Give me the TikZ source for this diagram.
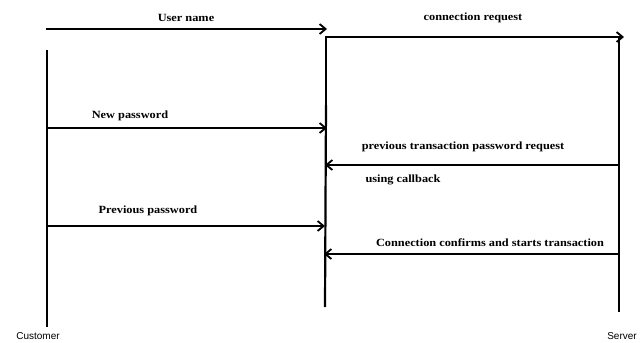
\documentclass[tikz,border=0pt]{standalone}
\usepackage{fontspec}
\setmainfont{Liberation Serif}[FakeStretch=1.12]
\newfontfamily\lblsans{Liberation Sans}
\usetikzlibrary{arrows.meta}
\begin{document}
\begin{tikzpicture}[x=1pt,y=-1pt,
  lifeline/.style={line width=2.2pt},
  thinline/.style={line width=1.2pt},
  msg/.style={line width=2.2pt,-{Straight Barb[length=6pt,width=10pt,line width=1.8pt]}},
  msgtext/.style={font=\fontsize{11}{13}\selectfont\bfseries,inner sep=0pt},
  actor/.style={font=\lblsans\fontsize{10}{11}\selectfont,inner sep=0pt}]
\useasboundingbox (0,0) rectangle (641,343);
% lifeline coordinates
\coordinate (cTop) at (47,50);
\coordinate (cBot) at (47,327);
\coordinate (mTop) at (326,37);
\coordinate (mMid) at (326,105);
\coordinate (mBot) at (325,307);
\coordinate (sTop) at (619,37);
\coordinate (sBot) at (619,312);
% lifelines
\draw[lifeline] (cTop) -- (cBot);
\draw[thinline] (mTop) -- (mMid);
\draw[lifeline] (mMid) -- (mBot);
\draw[lifeline] (sTop) -- (sBot);
% message end points
\coordinate (u1) at (46,29);   \coordinate (u2) at (327,29);
\coordinate (r1) at (325,37);  \coordinate (r2) at (624,37);
\coordinate (n1) at (46,128);  \coordinate (n2) at (327,128);
\coordinate (t1) at (620,165); \coordinate (t2) at (325,165);
\coordinate (p1) at (46,226);  \coordinate (p2) at (325,226);
\coordinate (k1) at (620,254); \coordinate (k2) at (324,254);
% messages
\draw[msg] (u1) -- (u2);
\draw[msg] (r1) -- (r2);
\draw[msg] (n1) -- (n2);
\draw[msg] (t1) -- (t2);
\draw[msg] (p1) -- (p2);
\draw[msg] (k1) -- (k2);
% labels
\node[msgtext] (lu) at (186,18) {User name};
\node[msgtext] (lr) at (473,18) {connection request};
\node[msgtext] (ln) at (130,116) {New password};
\node[msgtext] (lt) at (463,147) {previous transaction password request};
\node[msgtext] (lc) at (403,180) {using callback};
\node[msgtext] (lp) at (148,211) {Previous password};
\node[msgtext] (lk) at (490,243) {Connection confirms and starts transaction};
\node[actor] (cust) at (38,336) {Customer};
\node[actor] (serv) at (622,336) {Server};
\end{tikzpicture}
\end{document}
